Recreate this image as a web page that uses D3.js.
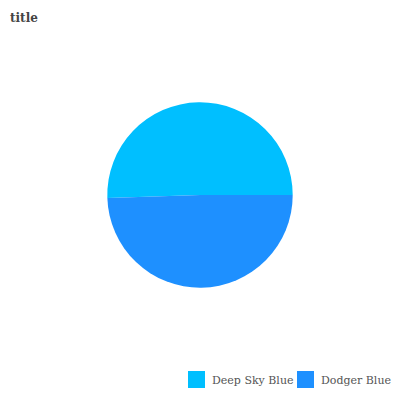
<!DOCTYPE html>
<html lang="en">
<head>
  <meta charset="UTF-8">
  <title>title</title>
  <script src="https://d3js.org/d3.v7.min.js"></script>
  <style>
    body { margin: 0; background: #fff; }
    svg { display: block; }
  </style>
</head>
<body>
  <svg id="chart" width="400" height="400"></svg>
<script>
  // chart data
  const categories = ["Deep Sky Blue", "Dodger Blue"];
  const values = [50.5, 49.5];
  const colors = ["#00bfff", "#1e90ff"];

  const svg = d3.select("#chart");
  const center = { x: 200, y: 195 };
  const radius = 92.7;

  svg.append("text")
    .attr("x", 10)
    .attr("y", 22)
    .attr("font-family", "DejaVu Serif")
    .attr("font-size", 12)
    .attr("font-weight", "bold")
    .attr("fill", "#444")
    .text("title");

  const color = d3.scaleOrdinal().domain(categories).range(colors);

  // dodger blue starts at 3 o'clock and runs clockwise
  const pie = d3.pie()
    .sort(null)
    .value((d) => d.value)
    .startAngle(Math.PI / 2 + 2 * Math.PI * values[1] / d3.sum(values) - 2 * Math.PI)
    .endAngle(Math.PI / 2 + 2 * Math.PI * values[1] / d3.sum(values));

  const arc = d3.arc().innerRadius(0).outerRadius(radius);

  const data = categories.map((c, i) => ({ name: c, value: values[i] }));

  svg.append("g")
    .attr("transform", `translate(${center.x},${center.y})`)
    .selectAll("path")
    .data(pie(data))
    .join("path")
    .attr("d", arc)
    .attr("fill", (d) => color(d.data.name));

  // legend
  const legendX = [188, 297];
  const legend = svg.append("g")
    .selectAll("g")
    .data(categories)
    .join("g")
    .attr("transform", (d, i) => `translate(${legendX[i]},371)`);

  legend.append("rect")
    .attr("width", 17)
    .attr("height", 17)
    .attr("fill", (d) => color(d));

  legend.append("text")
    .attr("x", 24)
    .attr("y", 12.5)
    .attr("font-family", "DejaVu Serif")
    .attr("font-size", 11)
    .attr("fill", "#555")
    .text((d) => d);
</script>
</body>
</html>
